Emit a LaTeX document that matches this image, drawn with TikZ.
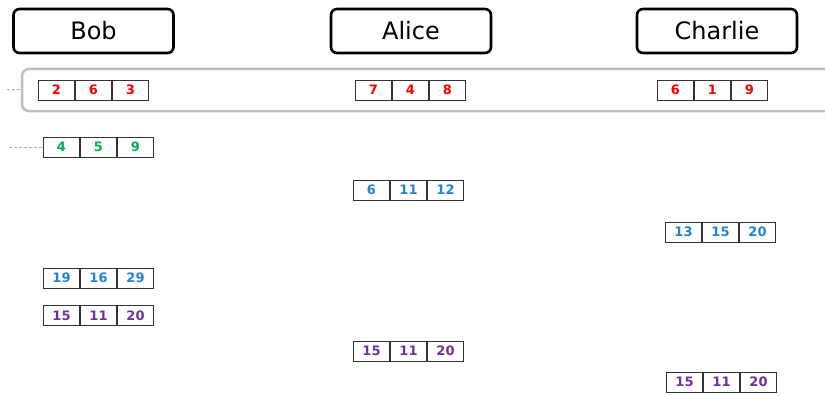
\documentclass[tikz,border=0pt]{standalone}
\usepackage{fontspec}
\setmainfont{DejaVu Sans}
\definecolor{cred}{HTML}{FF0000}
\definecolor{cgreen}{HTML}{00B050}
\definecolor{cblue}{HTML}{2484CF}
\definecolor{cpurple}{HTML}{7030A0}
\definecolor{band}{HTML}{BFBFBF}
\tikzset{
  header/.style={draw, line width=2.6pt, rounded corners=6pt, minimum width=160pt, minimum height=44pt, inner sep=0pt, font=\fontsize{24}{24}\selectfont},
  cell/.style={draw=black!80, line width=0.8pt, minimum width=36.2pt, minimum height=20pt, inner sep=0pt, text height=9.5pt, text depth=0pt, font=\bfseries\fontsize{13}{13}\selectfont},
  bandbox/.style={draw=band, line width=2.5pt, rounded corners=7pt, minimum width=820pt, minimum height=42pt},
  lead/.style={draw=gray!60, dash pattern=on 3pt off 2pt, line width=0.7pt}
}
\newcommand{\cellrow}[7]{%
  \node[cell, text=#4, anchor=west] (#1a) at (#2,#3) {#5};
  \node[cell, text=#4, anchor=west] (#1b) at (#1a.east) {#6};
  \node[cell, text=#4, anchor=west] (#1c) at (#1b.east) {#7};
}
\begin{document}
\begin{tikzpicture}[x=1pt, y=-1pt]
\useasboundingbox (0,0) rectangle (825,396);
\clip (0,0) rectangle (825,396);
\fill[white] (0,0) rectangle (825,396);
\node[header] (bob) at (93.5,31) {Bob};
\node[header] (alice) at (411,31) {Alice};
\node[header] (charlie) at (717,31) {Charlie};
\node[bandbox] (band) at (432,90) {};
\cellrow{br}{38}{90}{cred}{2}{6}{3}
\cellrow{ar}{355}{90}{cred}{7}{4}{8}
\cellrow{cr}{657}{90}{cred}{6}{1}{9}
\cellrow{bg}{43}{147}{cgreen}{4}{5}{9}
\cellrow{ab}{353}{190}{cblue}{6}{11}{12}
\cellrow{cb}{665}{232}{cblue}{13}{15}{20}
\cellrow{bb}{43}{278}{cblue}{19}{16}{29}
\cellrow{bp}{43}{315.5}{cpurple}{15}{11}{20}
\cellrow{ap}{353}{351}{cpurple}{15}{11}{20}
\cellrow{cp}{666}{382}{cpurple}{15}{11}{20}
\coordinate (l1) at (7,89);
\coordinate (l2) at (9,147);
\draw[lead] (l1) -- (band.west |- l1);
\draw[lead] (l2) -- (bga.west);
\end{tikzpicture}
\end{document}
